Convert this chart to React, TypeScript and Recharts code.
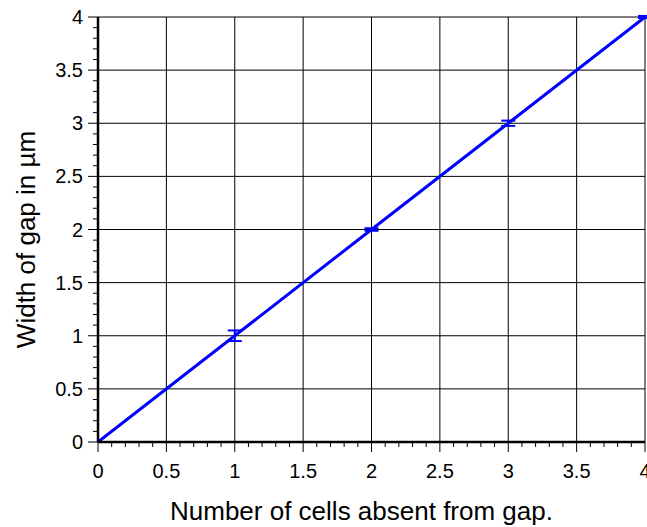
import React from 'react';
import { ComposedChart, Line, XAxis, YAxis, ErrorBar, ReferenceLine, Label } from 'recharts';

// cells absent vs measured gap width
const cells = [0, 1, 2, 3, 4];
const gapWidth = [0, 1, 2, 3, 4];
const gapError = [0, 0.05, 0.012, 0.025, 0.01];

const majorTicks = [0, 0.5, 1, 1.5, 2, 2.5, 3, 3.5, 4];
const minorTicks = Array.from({ length: 41 }, (_, i) => Math.round(i * 10) / 100);

const data = cells.map((c, i) => ({ cells: c, width: gapWidth[i], err: gapError[i] }));

const FONT = 'Liberation Sans, Arial, sans-serif';
const isMajor = (v: number) => majorTicks.some(m => Math.abs(m - v) < 1e-6);

const XTick = (props: any) => {
  const { x, y, payload } = props;
  const major = isMajor(payload.value);
  return (
    <g>
      <line x1={x} y1={y} x2={x} y2={y + (major ? 10 : 5)} stroke="#000" strokeWidth={1} />
      {major && (
        <text x={x} y={y + 36} textAnchor="middle" fontSize={20} fontFamily={FONT} fill="#000">
          {payload.value}
        </text>
      )}
    </g>
  );
};

const YTick = (props: any) => {
  const { x, y, payload } = props;
  const major = isMajor(payload.value);
  return (
    <g>
      <line x1={x} y1={y} x2={x - (major ? 10 : 5)} y2={y} stroke="#000" strokeWidth={1} />
      {major && (
        <text x={x - 15} y={y + 7} textAnchor="end" fontSize={20} fontFamily={FONT} fill="#000">
          {payload.value}
        </text>
      )}
    </g>
  );
};

const XTitle = ({ viewBox }: any) => (
  <text
    x={viewBox.x + viewBox.width / 2 - 10}
    y={viewBox.y + 78}
    textAnchor="middle"
    fontSize={26}
    fontFamily={FONT}
    fill="#000"
  >
    Number of cells absent from gap.
  </text>
);

const YTitle = ({ viewBox }: any) => {
  const cx = 35;
  const cy = viewBox.y + viewBox.height / 2 + 10;
  return (
    <text
      x={cx}
      y={cy}
      transform={`rotate(-90, ${cx}, ${cy})`}
      textAnchor="middle"
      fontSize={26}
      fontFamily={FONT}
      fill="#000"
    >
      Width of gap in µm
    </text>
  );
};

const App: React.FC = () => {
  return (
    <div style={{ position: 'absolute', left: 0, top: 0, background: '#fff' }}>
      <ComposedChart width={647} height={527} data={data} margin={{ top: 17, right: 2, left: 0, bottom: 5 }}>
        {majorTicks.slice(1).map(v => (
          <ReferenceLine key={'gx' + v} x={v} stroke="#000" strokeWidth={1} ifOverflow="extendDomain" />
        ))}
        {majorTicks.slice(1).map(v => (
          <ReferenceLine key={'gy' + v} y={v} stroke="#000" strokeWidth={1} ifOverflow="extendDomain" />
        ))}
        <XAxis
          dataKey="cells"
          type="number"
          domain={[0, 4]}
          ticks={minorTicks}
          interval={0}
          tickSize={0}
          tickMargin={0}
          tick={<XTick />}
          height={80}
          axisLine={{ stroke: '#000', strokeWidth: 2.5 }}
          allowDataOverflow
        >
          <Label content={<XTitle />} />
        </XAxis>
        <YAxis
          type="number"
          domain={[0, 4]}
          ticks={minorTicks}
          interval={0}
          tickSize={0}
          tickMargin={0}
          tick={<YTick />}
          width={98}
          axisLine={{ stroke: '#000', strokeWidth: 2.5 }}
          allowDataOverflow
        >
          <Label content={<YTitle />} />
        </YAxis>
        <Line
          dataKey="width"
          stroke="#0000ff"
          strokeWidth={3}
          dot={false}
          isAnimationActive={false}
        >
          <ErrorBar dataKey="err" width={7} stroke="#0000ff" strokeWidth={2} direction="y" />
        </Line>
      </ComposedChart>
    </div>
  );
};

export default App;
